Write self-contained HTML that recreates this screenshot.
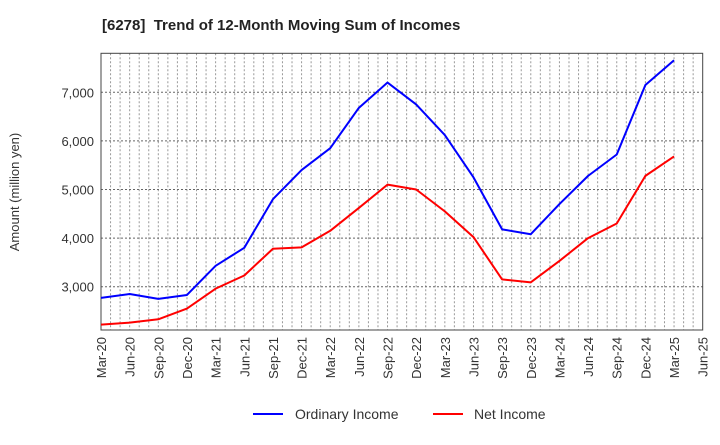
<!DOCTYPE html>
<html><head><meta charset="utf-8"><style>
body{margin:0;background:#fff;font-family:"Liberation Sans",sans-serif}
svg text{font-family:"Liberation Sans",sans-serif;fill:#333}
</style></head><body>
<svg id="chart" width="720" height="440" viewBox="0 0 720 440" xmlns="http://www.w3.org/2000/svg">
<text x="102" y="30" font-size="15" font-weight="bold" style="fill:#222">[6278]&#160; Trend of 12-Month Moving Sum of Incomes</text>
<g id="grid"></g>
<rect x="101" y="53.3" width="601.7" height="276.7" fill="none" stroke="#444" stroke-width="1"/>
<g id="yaxis"></g><g id="xaxis"></g><g id="series"></g>
<text transform="translate(19,192) rotate(-90)" text-anchor="middle" font-size="13">Amount (million yen)</text>
<g>
<line x1="253" y1="414" x2="283" y2="414" stroke="#0000ff" stroke-width="2"/>
<text x="295" y="419" font-size="14">Ordinary Income</text>
<line x1="433" y1="414" x2="463" y2="414" stroke="#ff0000" stroke-width="2"/>
<text x="474" y="419" font-size="14">Net Income</text>
</g>
</svg>
<script>
const categories=["Mar-20","Jun-20","Sep-20","Dec-20","Mar-21","Jun-21","Sep-21","Dec-21","Mar-22","Jun-22","Sep-22","Dec-22","Mar-23","Jun-23","Sep-23","Dec-23","Mar-24","Jun-24","Sep-24","Dec-24","Mar-25","Jun-25"];
const ordinaryIncome=[2770,2850,2750,2830,3430,3800,4800,5400,5850,6680,7200,6750,6120,5250,4180,4080,4700,5280,5720,7150,7660];
const netIncome=[2220,2260,2330,2550,2960,3230,3780,3810,4150,4620,5100,5000,4550,4020,3150,3090,3530,4000,4300,5280,5680];
const yTicks=[3000,4000,5000,6000,7000];
const yMin=2109,yMax=7802;
const L=101,R=702.7,T=53.3,B=330;
const NS="http://www.w3.org/2000/svg";
function x(i){return L+i*(R-L)/(categories.length-1);}
function y(v){return B-(v-yMin)/(yMax-yMin)*(B-T);}
function mk(tag,attrs,parent){const e=document.createElementNS(NS,tag);for(const k in attrs)e.setAttribute(k,attrs[k]);parent.appendChild(e);return e;}
const grid=document.getElementById('grid'),ya=document.getElementById('yaxis'),xa=document.getElementById('xaxis'),se=document.getElementById('series');
for(let m=1;m<(categories.length-1)*3;m++){
 const xx=L+m*(R-L)/((categories.length-1)*3);
 const g=mk('line',{x1:xx,x2:xx,y1:T,y2:B,stroke:'#999','stroke-dasharray':'2,2','stroke-width':1},grid);
 
 
}
yTicks.forEach(v=>{
 const g=mk('line',{x1:L,x2:R,y1:y(v),y2:y(v),stroke:'#666','stroke-dasharray':'2,2','stroke-width':1},grid);
 
 
 const t=mk('text',{x:L-7,y:y(v)+5,'text-anchor':'end','font-size':13},ya);
 t.textContent=v.toLocaleString('en-US');
 
 
});
categories.forEach((c,i)=>{
 const t=mk('text',{transform:`translate(${x(i)+5},337) rotate(-90)`,'text-anchor':'end','font-size':13},xa);
 t.textContent=c;
 
 
});
function line(vals,color,name){
 const p=mk('polyline',{points:vals.map((v,i)=>x(i)+','+y(v)).join(' '),fill:'none',stroke:color,'stroke-width':2,'stroke-linejoin':'round'},se);
 
 
}
line(ordinaryIncome,'#0000ff','ordinary-income-line');
line(netIncome,'#ff0000','net-income-line');
</script>
</body></html>
